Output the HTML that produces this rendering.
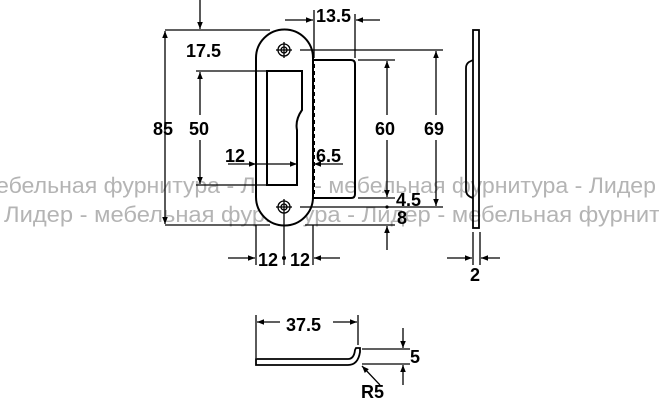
<!DOCTYPE html>
<html><head><meta charset="utf-8"><style>
html,body{margin:0;padding:0;background:#fff;}
svg{display:block;}
text{font-family:"Liberation Sans",Arial,sans-serif;}
.d{font-weight:bold;font-size:18px;fill:#000;}
</style></head><body>
<svg width="659" height="400" viewBox="0 0 659 400" xmlns="http://www.w3.org/2000/svg">
<defs>
<marker id="a" viewBox="0 0 10 10" refX="10" refY="5" markerWidth="11" markerHeight="7" markerUnits="userSpaceOnUse" orient="auto"><path d="M0,1 L10,5 L0,9 Z" fill="#000"/></marker>
</defs>
<g fill="#b4b4b4" font-size="22">
<text x="-4" y="193" textLength="660" lengthAdjust="spacingAndGlyphs">ебельная фурнитура - Лидер - мебельная фурнитура - Лидер</text>
<text x="4" y="222" textLength="656" lengthAdjust="spacingAndGlyphs">Лидер - мебельная фурнитура - Лидер - мебельная фурнит</text>
</g>
<g stroke="#000" stroke-width="1.3" fill="none">
<path d="M256,58 A28.5,28.5 0 0 1 313,58 L313,197 A28.5,28.5 0 0 1 256,197 Z" stroke-width="2" fill="#fff"/>
<path d="M313,60 L351,60 Q355,60 355,64 L355,194 Q355,198 351,198 L313,198" stroke-width="2"/>
<line x1="314" y1="64" x2="314" y2="196" stroke-dasharray="4,3" stroke-width="2"/>
<path d="M267,71 L302,71 L302,110 Q295,120 297,130 L297,185 L267,185 Z" stroke-width="2"/>
<circle cx="284" cy="50" r="6"/><circle cx="284" cy="50" r="3"/>
<line x1="276" y1="50" x2="292" y2="50"/><line x1="284" y1="42" x2="284" y2="58"/>
<circle cx="284" cy="207" r="6"/><circle cx="284" cy="207" r="3"/>
<line x1="276" y1="207" x2="292" y2="207"/><line x1="284" y1="199" x2="284" y2="215"/>
<line x1="165" y1="30" x2="270" y2="30"/>
<line x1="165" y1="225" x2="270" y2="225"/>
<line x1="196" y1="71" x2="267" y2="71"/>
<line x1="196" y1="185" x2="267" y2="185"/>
<line x1="300" y1="50" x2="443" y2="50"/>
<line x1="300" y1="207" x2="443" y2="207"/>
<line x1="358" y1="60" x2="395" y2="60"/>
<line x1="358" y1="198" x2="395" y2="198"/>
<line x1="305" y1="225" x2="395" y2="225"/>
<line x1="314" y1="10" x2="314" y2="58"/>
<line x1="355" y1="14" x2="355" y2="58"/>
<line x1="256" y1="225" x2="256" y2="265"/>
<line x1="284" y1="215" x2="284" y2="265"/>
<line x1="313" y1="225" x2="313" y2="265"/>
<line x1="200" y1="0" x2="200" y2="29" marker-end="url(#a)"/>
<line x1="165" y1="128" x2="165" y2="31" marker-end="url(#a)"/>
<line x1="165" y1="128" x2="165" y2="224" marker-end="url(#a)"/>
<line x1="200" y1="115" x2="200" y2="72" marker-end="url(#a)"/>
<line x1="200" y1="140" x2="200" y2="184" marker-end="url(#a)"/>
<line x1="228" y1="164" x2="256" y2="164" marker-end="url(#a)"/>
<line x1="256" y1="164" x2="297" y2="164" marker-end="url(#a)"/>
<line x1="343" y1="164" x2="314" y2="164" marker-end="url(#a)"/>
<line x1="285" y1="20" x2="313" y2="20" marker-end="url(#a)"/>
<line x1="380" y1="20" x2="356" y2="20" marker-end="url(#a)"/>
<line x1="387" y1="115" x2="387" y2="61" marker-end="url(#a)"/>
<line x1="387" y1="140" x2="387" y2="197" marker-end="url(#a)"/>
<line x1="436" y1="115" x2="436" y2="51" marker-end="url(#a)"/>
<line x1="436" y1="140" x2="436" y2="206" marker-end="url(#a)"/>
<line x1="387" y1="250" x2="387" y2="226" marker-end="url(#a)"/>
<line x1="228" y1="258" x2="255" y2="258" marker-end="url(#a)"/>
<line x1="340" y1="258" x2="314" y2="258" marker-end="url(#a)"/>
<rect x="473" y="30" width="6" height="198" stroke-width="1.8"/>
<path d="M473,60 L469,62 Q466,64 466,68 L466,190 Q466,196 473,198" stroke-width="1.8"/>
<line x1="473" y1="232" x2="473" y2="265"/>
<line x1="480" y1="232" x2="480" y2="265"/>
<line x1="447" y1="258" x2="472" y2="258" marker-end="url(#a)"/>
<line x1="500" y1="258" x2="481" y2="258" marker-end="url(#a)"/>
<path d="M256,359 L348,359 Q354,359 355,350 L356,348 L360,348 L360,352 Q358,365 348,365 L256,365 Z" stroke-width="1.8"/>
<line x1="256" y1="315" x2="256" y2="358"/>
<line x1="358" y1="315" x2="358" y2="345"/>
<line x1="280" y1="322" x2="257" y2="322" marker-end="url(#a)"/>
<line x1="333" y1="322" x2="357" y2="322" marker-end="url(#a)"/>
<line x1="362" y1="349" x2="410" y2="349"/>
<line x1="362" y1="364" x2="410" y2="364"/>
<line x1="403" y1="328" x2="403" y2="348" marker-end="url(#a)"/>
<line x1="403" y1="385" x2="403" y2="365" marker-end="url(#a)"/>
<line x1="380" y1="385" x2="362" y2="366" marker-end="url(#a)"/>
</g>
<circle cx="284" cy="258" r="2" fill="#000"/>
<circle cx="387" cy="207" r="1.6" fill="#000"/>
<g class="d">
<text x="186" y="57">17.5</text>
<text x="153" y="135">85</text>
<text x="189" y="135">50</text>
<text x="225" y="162">12</text>
<text x="316" y="162">6.5</text>
<text x="316" y="22">13.5</text>
<text x="375" y="135">60</text>
<text x="424" y="135">69</text>
<text x="396" y="206">4.5</text>
<text x="397" y="224">8</text>
<text x="258" y="266">12</text>
<text x="290" y="266">12</text>
<text x="470" y="281">2</text>
<text x="286" y="331">37.5</text>
<text x="410" y="363">5</text>
<text x="361" y="398">R5</text>
</g>
</svg>
</body></html>
